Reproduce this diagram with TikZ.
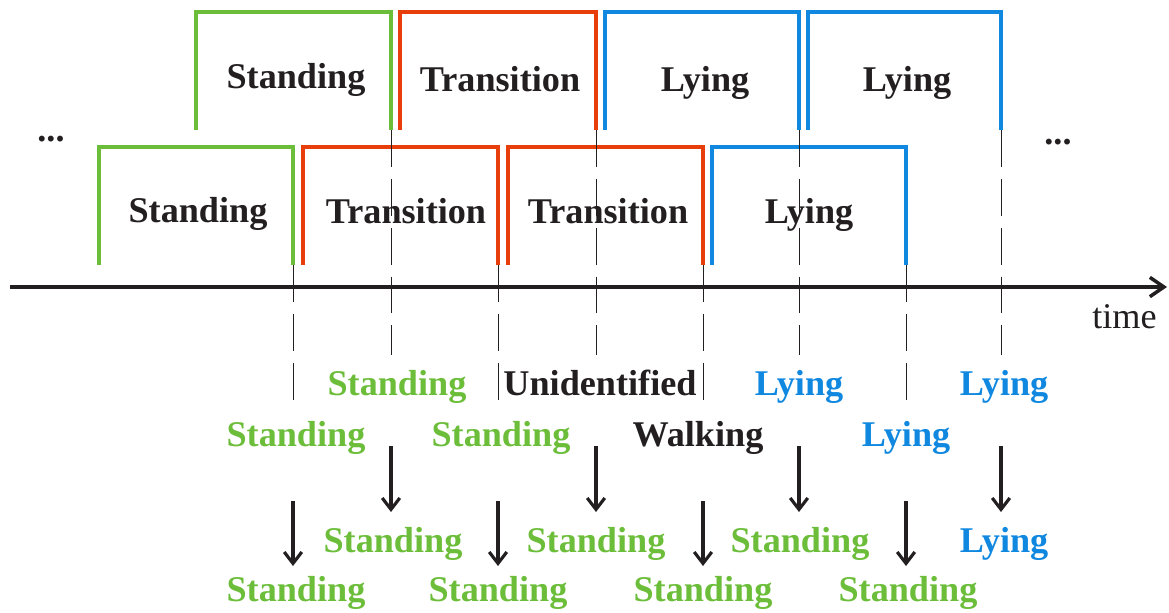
\documentclass[tikz,border=0pt]{standalone}
\usepackage{fontspec}
\setmainfont{Liberation Serif}
\usetikzlibrary{arrows.meta}

\definecolor{standc}{RGB}{108,190,58}
\definecolor{transc}{RGB}{232,62,12}
\definecolor{lyingc}{RGB}{16,136,224}
\definecolor{ink}{RGB}{35,31,32}

\begin{document}
\begin{tikzpicture}[x=0.02cm,y=-0.02cm,
    win/.style={line width=2.5pt},
    lab/.style={font=\fontsize{20.6}{24}\selectfont\bfseries,anchor=base,inner sep=0pt,text=ink},
    cut/.style={line width=0.5pt,draw=ink,dash pattern=on 21pt off 6.8pt},
    flow/.style={line width=1.8pt,draw=ink,-{Straight Barb[length=6.5pt,width=10pt,line width=1.8pt]}}]
    \useasboundingbox (0,0) rectangle (1169,612);

    % sliding windows, upper row
    \draw[win,standc] (196,130) |- (391,12) -- (391,130);
    \draw[win,transc] (400,130) |- (596,12) -- (596,130);
    \draw[win,lyingc] (605,130) |- (799,12) -- (799,130);
    \draw[win,lyingc] (808,130) |- (1001,12) -- (1001,130);
    % sliding windows, lower row
    \draw[win,standc] (99,265) |- (293,147) -- (293,265);
    \draw[win,transc] (303,265) |- (498,147) -- (498,265);
    \draw[win,transc] (508,265) |- (703,147) -- (703,265);
    \draw[win,lyingc] (712,265) |- (906,147) -- (906,265);

    \node[lab] (w1) at (296,88)  {Standing};
    \node[lab] (w2) at (500,91)  {Transition};
    \node[lab] (w3) at (705,91)  {Lying};
    \node[lab] (w4) at (907,91)  {Lying};
    \node[lab] (w5) at (198,222) {Standing};
    \node[lab] (w6) at (406,223) {Transition};
    \node[lab] (w7) at (608,223) {Transition};
    \node[lab] (w8) at (809,223) {Lying};

    \node[lab] (dl) at (51,141) {...};
    \node[lab] (dr) at (1058,144) {...};

    % time axis
    \draw[line width=2pt,draw=ink,-{Straight Barb[length=8pt,width=11pt,line width=2pt]}] (10,287) -- (1167,287);
    \node[lab,font=\fontsize{20.6}{24}\selectfont,anchor=base east] (time) at (1157,328) {time};

    % window ends
    \foreach \x/\y/\z in {391/130/355,596/130/355,799/130/355,1001/130/355,
                          293/265/402,498/265/402,703/265/402,906/265/402}
        \draw[cut] (\x,\y) -- (\x,\z);

    % decisions per window
    \node[lab,text=standc] (r1) at (397,395) {Standing};
    \node[lab]             (r2) at (600,395) {Unidentified};
    \node[lab,text=lyingc] (r3) at (799,395) {Lying};
    \node[lab,text=lyingc] (r4) at (1004,395) {Lying};
    \node[lab,text=standc] (q1) at (296,446) {Standing};
    \node[lab,text=standc] (q2) at (501,446) {Standing};
    \node[lab]             (q3) at (698,446) {Walking};
    \node[lab,text=lyingc] (q4) at (906,446) {Lying};

    \foreach \x in {391,596,799,1001}
        \draw[flow] (\x,446) -- (\x,512);
    \foreach \x in {293,498,703,906}
        \draw[flow] (\x,501) -- (\x,566);

    % smoothed output
    \node[lab,text=standc] (s1) at (393,552) {Standing};
    \node[lab,text=standc] (s2) at (596,552) {Standing};
    \node[lab,text=standc] (s3) at (800,552) {Standing};
    \node[lab,text=lyingc] (s4) at (1004,552) {Lying};
    \node[lab,text=standc] (t1) at (296,601) {Standing};
    \node[lab,text=standc] (t2) at (498,601) {Standing};
    \node[lab,text=standc] (t3) at (703,601) {Standing};
    \node[lab,text=standc] (t4) at (908,601) {Standing};
\end{tikzpicture}
\end{document}
